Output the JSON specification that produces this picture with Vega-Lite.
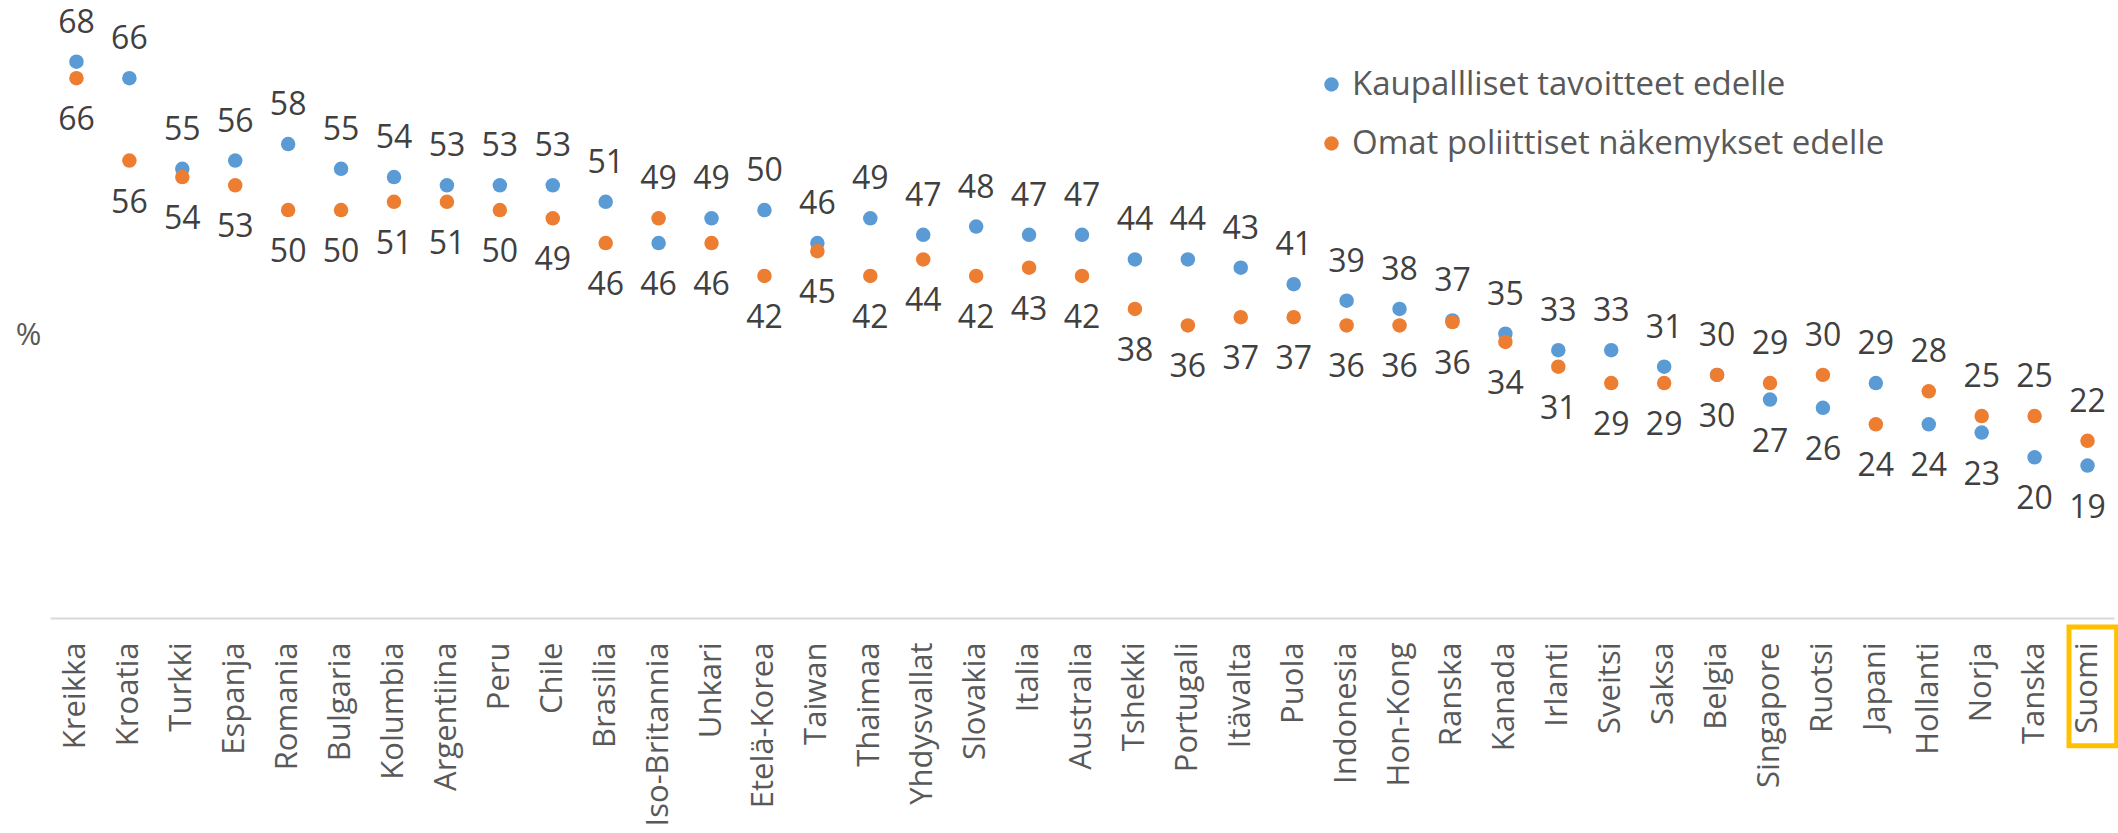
{
  "$schema": "https://vega.github.io/schema/vega-lite/v6.json",
  "width": 2064,
  "height": 614,
  "autosize": {"type": "none"},
  "padding": {"left": 50, "top": 4, "right": 4, "bottom": 215},
  "background": "white",
  "config": {
    "view": {"stroke": null},
    "font": "Open Sans"
  },
  "data": {
    "values": [
      {"c": "Kreikka", "k": 68, "o": 66},
      {"c": "Kroatia", "k": 66, "o": 56},
      {"c": "Turkki", "k": 55, "o": 54},
      {"c": "Espanja", "k": 56, "o": 53},
      {"c": "Romania", "k": 58, "o": 50},
      {"c": "Bulgaria", "k": 55, "o": 50},
      {"c": "Kolumbia", "k": 54, "o": 51},
      {"c": "Argentiina", "k": 53, "o": 51},
      {"c": "Peru", "k": 53, "o": 50},
      {"c": "Chile", "k": 53, "o": 49},
      {"c": "Brasilia", "k": 51, "o": 46},
      {"c": "Iso-Britannia", "k": 46, "o": 49},
      {"c": "Unkari", "k": 49, "o": 46},
      {"c": "Etelä-Korea", "k": 50, "o": 42},
      {"c": "Taiwan", "k": 46, "o": 45},
      {"c": "Thaimaa", "k": 49, "o": 42},
      {"c": "Yhdysvallat", "k": 47, "o": 44},
      {"c": "Slovakia", "k": 48, "o": 42},
      {"c": "Italia", "k": 47, "o": 43},
      {"c": "Australia", "k": 47, "o": 42},
      {"c": "Tshekki", "k": 44, "o": 38},
      {"c": "Portugali", "k": 44, "o": 36},
      {"c": "Itävalta", "k": 43, "o": 37},
      {"c": "Puola", "k": 41, "o": 37},
      {"c": "Indonesia", "k": 39, "o": 36},
      {"c": "Hon-Kong", "k": 38, "o": 36},
      {"c": "Ranska", "k": 36.6, "o": 36.4},
      {"c": "Kanada", "k": 35, "o": 34},
      {"c": "Irlanti", "k": 33, "o": 31},
      {"c": "Sveitsi", "k": 33, "o": 29},
      {"c": "Saksa", "k": 31, "o": 29},
      {"c": "Belgia", "k": 30, "o": 30},
      {"c": "Singapore", "k": 27, "o": 29},
      {"c": "Ruotsi", "k": 26, "o": 30},
      {"c": "Japani", "k": 29, "o": 24},
      {"c": "Hollanti", "k": 24, "o": 28},
      {"c": "Norja", "k": 23, "o": 25},
      {"c": "Tanska", "k": 20, "o": 25},
      {"c": "Suomi", "k": 19, "o": 22}
    ]
  },
  "encoding": {
    "x": {
      "field": "c",
      "type": "nominal",
      "sort": null,
      "scale": {"paddingInner": 0, "paddingOuter": 0},
      "axis": {
        "title": null,
        "labelAngle": -90,
        "labelFontSize": 31,
        "labelColor": "#595959",
        "labelFont": "Open Sans",
        "labelLimit": 400,
        "labelPadding": 24,
        "ticks": false,
        "tickSize": 0,
        "domainColor": "#D9D9D9",
        "domainWidth": 2,
        "grid": false
      }
    }
  },
  "layer": [
    {
      "transform": [{"fold": ["k", "o"], "as": ["s", "v"]}],
      "mark": {"type": "point", "filled": true, "shape": "circle", "size": 210, "opacity": 1},
      "encoding": {
        "y": {
          "field": "v",
          "type": "quantitative",
          "scale": {"domain": [0.5, 75], "nice": false, "zero": false},
          "axis": {
            "title": "%",
            "domain": false,
            "ticks": false,
            "labels": false,
            "grid": false,
            "titleAngle": 0,
            "titleX": -22,
            "titleY": 331,
            "titleAlign": "center",
            "titleBaseline": "middle",
            "titleFontSize": 31,
            "titleFontWeight": "normal",
            "titleColor": "#595959",
            "titleFont": "Open Sans"
          }
        },
        "color": {
          "field": "s",
          "type": "nominal",
          "scale": {"domain": ["k", "o"], "range": ["#5B9BD5", "#ED7D31"]},
          "legend": {
            "title": null,
            "orient": "none",
            "legendX": 1265,
            "legendY": 64,
            "labelExpr": "datum.label == 'k' ? 'Kaupallliset tavoitteet edelle' : 'Omat poliittiset näkemykset edelle'",
            "labelFontSize": 33,
            "labelColor": "#595959",
            "labelFont": "Open Sans",
            "labelLimit": 800,
            "labelOffset": 4,
            "symbolSize": 210,
            "symbolType": "circle",
            "rowPadding": 25
          }
        }
      }
    },
    {
      "transform": [{"filter": "datum.k >= datum.o"}],
      "mark": {"type": "text", "dy": -39, "fontSize": 32, "color": "#404040", "font": "Open Sans", "baseline": "middle", "align": "center"},
      "encoding": {
        "y": {"field": "k", "type": "quantitative"},
        "text": {"field": "k", "type": "quantitative", "format": ".0f"}
      }
    },
    {
      "transform": [{"filter": "datum.k < datum.o"}],
      "mark": {"type": "text", "dy": 42, "fontSize": 32, "color": "#404040", "font": "Open Sans", "baseline": "middle", "align": "center"},
      "encoding": {
        "y": {"field": "k", "type": "quantitative"},
        "text": {"field": "k", "type": "quantitative", "format": ".0f"}
      }
    },
    {
      "transform": [{"filter": "datum.o > datum.k"}],
      "mark": {"type": "text", "dy": -39, "fontSize": 32, "color": "#404040", "font": "Open Sans", "baseline": "middle", "align": "center"},
      "encoding": {
        "y": {"field": "o", "type": "quantitative"},
        "text": {"field": "o", "type": "quantitative", "format": ".0f"}
      }
    },
    {
      "transform": [{"filter": "datum.o <= datum.k"}],
      "mark": {"type": "text", "dy": 42, "fontSize": 32, "color": "#404040", "font": "Open Sans", "baseline": "middle", "align": "center"},
      "encoding": {
        "y": {"field": "o", "type": "quantitative"},
        "text": {"field": "o", "type": "quantitative", "format": ".0f"}
      }
    },
    {
      "data": {"values": [{"c": "Suomi"}]},
      "mark": {"type": "rect", "filled": false, "stroke": "#FFC000", "strokeWidth": 5, "clip": false},
      "encoding": {
        "x": {"field": "c", "type": "nominal", "bandPosition": 0.15},
        "x2": {"field": "c", "bandPosition": 1.05},
        "y": {"datum": -0.6, "type": "quantitative"},
        "y2": {"datum": -15}
      }
    }
  ]
}
